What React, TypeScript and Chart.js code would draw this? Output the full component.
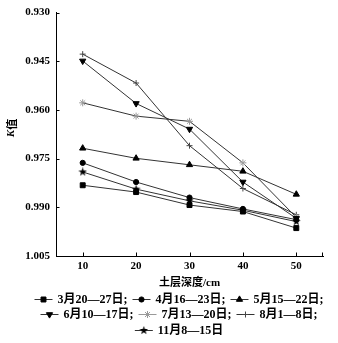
import React, { useEffect, useRef } from 'react';
import { Chart, registerables } from 'chart.js';
import { drawPoint } from 'chart.js/helpers';

Chart.register(...registerables);

// ---------- data ----------
const depths = ['10', '20', '30', '40', '50'];
const yTicks = [0.93, 0.945, 0.96, 0.975, 0.99, 1.005];
const seriesNames = ['3月20—27日;', '4月16—23日;', '5月15—22日;', '6月10—17日;', '7月13—20日;', '8月1—8日;', '11月8—15日'];
const mar = [0.9832, 0.9853, 0.9893, 0.9913, 0.9964];
const apr = [0.9763, 0.9822, 0.987, 0.9905, 0.9938];
const may = [0.9718, 0.9749, 0.9769, 0.9789, 0.986];
const jun = [0.9449, 0.958, 0.9659, 0.9822, 0.9934];
const jul = [0.9578, 0.9619, 0.9635, 0.9763, 0.9931];
const aug = [0.9428, 0.9517, 0.971, 0.9842, 0.9923];
const nov = [0.9791, 0.9844, 0.988, 0.9909, 0.9944];
const xTitle = '土层深度/cm';

const SERIF = "'Liberation Serif', 'Noto Sans CJK SC', serif";

function makeStar(size: number) {
  const c = document.createElement('canvas');
  c.width = size;
  c.height = size;
  const g = c.getContext('2d')!;
  g.fillStyle = '#000';
  g.beginPath();
  for (let i = 0; i < 10; i++) {
    const r = i % 2 === 0 ? size / 2 : size / 5;
    const a = -Math.PI / 2 + (i * Math.PI) / 5;
    g.lineTo(size / 2 + r * Math.cos(a), size / 2 + r * Math.sin(a));
  }
  g.closePath();
  g.fill();
  return c;
}

export default function App() {
  const ref = useRef<HTMLCanvasElement>(null);

  useEffect(() => {
    document.body.style.margin = '0';
    const star = makeStar(9);
    const markers: any[] = [
      { pointStyle: 'rect', radius: 3.5, rotation: 0, fill: '#000', stroke: '#000' },
      { pointStyle: 'circle', radius: 2.6, rotation: 0, fill: '#000', stroke: '#000' },
      { pointStyle: 'triangle', radius: 3.6, rotation: 0, fill: '#000', stroke: '#000' },
      { pointStyle: 'triangle', radius: 3.6, rotation: 180, fill: '#000', stroke: '#000' },
      { pointStyle: 'star', radius: 3.5, rotation: 0, fill: '#999', stroke: '#999' },
      { pointStyle: 'cross', radius: 3, rotation: 0, fill: '#444', stroke: '#444' },
      { pointStyle: star, radius: 4.5, rotation: 0, fill: '#000', stroke: '#000' },
    ];
    const values = [mar, apr, may, jun, jul, aug, nov];
    const legendRows = [[0, 1, 2], [3, 4, 5], [6]];
    const legendY = [299, 314, 330];
    const lineColor = '#333';

    const custom = {
      id: 'custom',
      afterDraw(chart: any) {
        const { ctx, chartArea } = chart;
        const xs = chart.scales.x;
        const ys = chart.scales.y;
        ctx.save();
        // inward tick marks
        ctx.strokeStyle = '#000';
        ctx.lineWidth = 1;
        ctx.beginPath();
        ys.ticks.forEach((t: any) => {
          const py = Math.round(ys.getPixelForValue(t.value)) + 0.5;
          ctx.moveTo(chartArea.left, py);
          ctx.lineTo(chartArea.left + 3.5, py);
        });
        depths.forEach((_, i) => {
          const px = Math.round(xs.getPixelForValue(i)) + 0.5;
          ctx.moveTo(px, chartArea.bottom);
          ctx.lineTo(px, chartArea.bottom - 3.5);
        });
        const rx = Math.round(chartArea.right) - 0.5;
        ctx.moveTo(rx, chartArea.bottom);
        ctx.lineTo(rx, chartArea.bottom - 3.5);
        ctx.stroke();

        // y title: italic K + 值
        ctx.save();
        ctx.translate(11.5, 128);
        ctx.rotate(-Math.PI / 2);
        ctx.fillStyle = '#000';
        ctx.textBaseline = 'middle';
        const kFont = "italic bold 11px 'Liberation Serif', serif";
        const zFont = "bold 11px 'Noto Sans CJK SC', sans-serif";
        ctx.font = kFont;
        const kw = ctx.measureText('K').width;
        ctx.font = zFont;
        const zw = ctx.measureText('值').width;
        const sx = -(kw + zw) / 2;
        ctx.textAlign = 'left';
        ctx.font = kFont;
        ctx.fillText('K', sx, 0);
        ctx.font = zFont;
        ctx.fillText('值', sx + kw, 0);
        ctx.restore();

        // legend
        const fontStr = `bold 12px ${SERIF}`;
        ctx.font = fontStr;
        const lineW = 18;
        const gap = 5;
        const itemGap = 5;
        const centerX = 179;
        legendRows.forEach((row, ri) => {
          const widths = row.map((i) => lineW + gap + ctx.measureText(seriesNames[i]).width);
          const total = widths.reduce((a, b) => a + b, 0) + itemGap * (row.length - 1);
          let x = centerX - total / 2;
          const y = legendY[ri];
          row.forEach((i, k) => {
            const m = markers[i];
            ctx.strokeStyle = i === 4 ? '#999' : lineColor;
            ctx.lineWidth = 1;
            ctx.beginPath();
            ctx.moveTo(x, y + 0.5);
            ctx.lineTo(x + lineW, y + 0.5);
            ctx.stroke();
            ctx.fillStyle = m.fill;
            ctx.strokeStyle = m.stroke;
            ctx.lineWidth = 1;
            drawPoint(ctx, { pointStyle: m.pointStyle, radius: m.radius, rotation: m.rotation, borderWidth: 1 }, x + lineW / 2, y + 0.5);
            ctx.fillStyle = '#000';
            ctx.font = fontStr;
            ctx.textAlign = 'left';
            ctx.textBaseline = 'middle';
            ctx.fillText(seriesNames[i], x + lineW + gap, y + 1);
            x += widths[k] + itemGap;
          });
        });
        ctx.restore();
      },
    };

    const chart = new Chart(ref.current!, {
      type: 'line',
      data: {
        labels: depths,
        datasets: values.map((vals, i) => ({
          label: seriesNames[i],
          data: vals,
          borderColor: lineColor,
          borderWidth: 1,
          pointStyle: markers[i].pointStyle,
          pointRadius: markers[i].radius,
          pointRotation: markers[i].rotation,
          pointBackgroundColor: markers[i].fill,
          pointBorderColor: markers[i].stroke,
          pointBorderWidth: 1,
          tension: 0,
          fill: false,
        })),
      },
      options: {
        animation: false,
        responsive: false,
        devicePixelRatio: 1,
        layout: { padding: { top: 9, right: 15, bottom: 52, left: 0 } },
        plugins: { legend: { display: false }, tooltip: { enabled: false } },
        scales: {
          x: {
            type: 'category',
            offset: true,
            grid: { display: true, drawOnChartArea: false, drawTicks: false },
            border: { display: true, color: '#000', width: 1 },
            ticks: { color: '#000', padding: 4, font: { family: SERIF, size: 11, weight: 'bold' } },
            title: {
              display: true,
              text: xTitle,
              color: '#000',
              padding: { top: 0, bottom: 1 },
              font: { family: SERIF, size: 11, weight: 'bold' },
            },
            afterFit(scale: any) {
              scale.height = 35;
            },
          },
          y: {
            reverse: true,
            min: 0.93,
            max: 1.005,
            grid: { display: true, drawOnChartArea: false, drawTicks: false },
            border: { display: true, color: '#000', width: 1 },
            afterBuildTicks(scale: any) {
              scale.ticks = yTicks.map((v) => ({ value: v }));
            },
            ticks: {
              color: '#000',
              padding: 6,
              font: { family: SERIF, size: 11, weight: 'bold' },
              callback: (v: any) => Number(v).toFixed(3),
            },
            afterFit(scale: any) {
              scale.width = 56;
            },
          },
        },
      },
      plugins: [custom],
    });
    return () => chart.destroy();
  }, []);

  return (
    <div style={{ position: 'absolute', left: 0, top: 0, width: 338, height: 343, background: '#fff' }}>
      <canvas ref={ref} width={338} height={343} />
    </div>
  );
}
